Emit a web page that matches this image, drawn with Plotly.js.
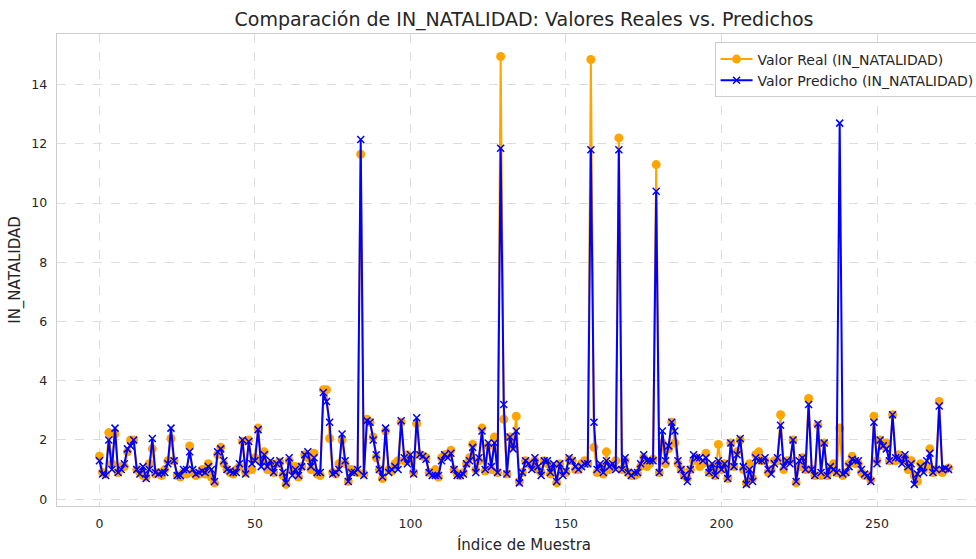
<!DOCTYPE html>
<html>
<head>
<meta charset="utf-8">
<script src="https://cdn.plot.ly/plotly-3.0.1.min.js"></script>
<style>
html,body{margin:0;padding:0;overflow:hidden;background:#fff;}
#chart{width:1010px;height:559px;}
</style>
</head>
<body>
<div id="chart"></div>
<script>
const realValues = [
1.45,0.9,0.85,2.25,1.2,2.2,0.9,1.1,1.1,1.6,
2.0,2.0,1.0,0.9,0.8,0.75,1.2,1.7,0.85,0.9,
0.8,1.0,1.3,2.05,1.3,0.8,0.75,0.9,0.85,1.8,
0.9,0.8,0.85,1.0,0.85,1.2,0.75,0.55,1.5,1.75,
1.2,1.0,0.9,0.85,1.0,1.1,1.95,0.9,2.0,1.0,
1.4,2.4,1.3,1.6,1.0,1.2,0.9,1.2,1.25,0.8,
0.5,1.3,1.0,1.1,0.75,1.1,1.5,1.4,1.0,1.55,
0.85,0.8,3.7,3.7,2.05,0.9,0.85,1.2,2.0,1.2,
0.6,1.0,0.95,0.9,11.65,0.85,2.7,2.6,2.1,1.4,
1.0,0.7,2.3,1.0,0.95,1.2,1.3,2.6,1.3,1.5,
1.3,0.9,2.55,1.5,1.45,1.4,0.9,0.85,1.0,0.75,
1.4,1.5,1.5,1.65,1.0,0.85,0.8,0.9,1.2,1.4,
1.85,1.0,1.3,2.4,0.95,1.8,1.0,2.1,0.9,14.95,
2.7,0.85,2.1,1.8,2.8,0.6,0.9,1.3,1.2,1.1,
1.3,1.0,0.9,1.3,1.2,0.85,1.1,0.55,1.2,0.9,
0.9,1.35,1.3,1.0,1.0,1.2,1.3,1.2,14.85,1.75,
0.9,1.1,0.85,1.6,1.0,1.1,1.3,12.2,1.0,1.3,
0.9,0.8,0.8,0.85,1.1,1.4,1.1,1.2,1.35,11.3,
0.9,1.9,1.2,1.7,2.6,1.9,1.2,1.0,0.8,0.7,
1.0,1.3,1.4,1.1,1.2,1.55,0.9,1.1,0.8,1.85,
1.0,1.2,0.7,1.9,1.1,1.6,2.0,1.0,0.55,1.2,
0.7,1.5,1.6,1.3,1.3,0.9,1.0,1.3,1.3,2.85,
1.0,1.3,1.3,2.0,0.55,1.1,1.4,1.0,3.4,1.0,
0.8,2.5,0.8,1.9,0.8,1.0,1.2,0.9,2.4,0.8,
0.9,1.2,1.45,1.2,1.2,0.9,0.8,0.8,0.65,2.8,
1.3,2.0,1.8,1.9,1.3,2.85,1.3,1.5,1.3,1.4,
1.0,1.3,0.8,0.6,1.2,1.0,1.1,1.7,0.9,1.0,
3.3,0.9,1.0,1.05
];
const predValues = [
1.3,0.85,0.8,2.0,1.0,2.4,0.9,1.0,1.2,1.7,
1.8,2.0,1.0,0.85,1.1,0.7,1.0,2.05,0.9,0.85,
0.9,0.9,1.2,2.4,1.3,0.8,0.8,1.0,1.0,1.6,
1.0,0.85,0.9,0.95,0.9,1.1,1.0,0.6,1.6,1.7,
1.3,1.0,0.95,0.9,0.9,1.2,2.0,0.85,1.95,1.2,
1.3,2.35,1.1,1.5,1.1,1.3,0.9,1.2,1.3,0.9,
0.55,1.4,0.8,1.0,0.8,1.1,1.5,1.6,1.1,1.4,
0.9,0.9,3.6,3.3,2.6,0.85,0.9,1.0,2.2,1.3,
0.6,0.9,0.9,1.0,12.15,0.8,2.65,2.6,2.0,1.5,
1.0,0.75,2.4,0.9,1.0,1.1,1.0,2.65,1.4,1.2,
1.5,0.85,2.75,1.5,1.45,1.35,0.9,0.8,0.8,0.8,
1.3,1.5,1.4,1.55,1.0,0.8,0.8,0.85,1.2,1.3,
1.75,0.9,1.4,2.3,1.0,1.9,1.1,1.9,0.9,11.85,
3.2,0.85,2.1,1.7,2.3,0.55,0.9,1.3,1.2,1.0,
1.4,1.1,0.8,1.3,1.3,0.9,1.2,0.6,1.2,0.8,
0.95,1.4,1.3,1.1,1.0,1.1,1.2,1.2,11.8,2.6,
1.0,1.2,0.9,1.3,1.1,1.2,1.0,11.8,1.0,1.4,
0.9,0.8,0.9,0.9,1.2,1.5,1.3,1.3,1.3,10.4,
0.9,2.3,1.3,1.8,2.6,2.3,1.3,1.0,0.8,0.6,
1.0,1.5,1.4,1.4,1.3,1.4,0.9,1.2,0.8,1.3,
1.0,1.2,0.7,1.9,1.1,1.5,2.05,1.1,0.5,1.0,
0.6,1.4,1.3,1.3,1.4,1.0,0.85,1.2,1.4,2.5,
1.1,1.3,1.2,2.0,0.6,1.3,1.4,1.0,3.2,1.0,
0.8,2.55,0.9,1.9,0.8,1.1,1.0,0.9,12.7,0.85,
0.9,1.1,1.35,1.3,1.3,1.0,0.85,0.8,0.6,2.6,
1.2,2.0,1.8,1.7,1.3,2.85,1.4,1.4,1.2,1.5,
1.1,1.2,0.5,0.85,1.1,0.9,1.3,1.55,0.9,1.0,
3.15,1.0,1.05,1.0
];
const sampleIndex = realValues.map((_, i) => i);
const xTicks = [0, 50, 100, 150, 200, 250];
const yTicks = [0, 2, 4, 6, 8, 10, 12, 14];

const FONT = "DejaVu Sans, sans-serif";
const TXT = '#262626';
const traces = [
  {
    x: sampleIndex, y: realValues, type: 'scatter', mode: 'lines+markers',
    name: 'Valor Real (IN_NATALIDAD)',
    line: {color: '#FFA500', width: 2},
    marker: {color: '#FFA500', size: 9, symbol: 'circle'}
  },
  {
    x: sampleIndex, y: predValues, type: 'scatter', mode: 'lines+markers',
    name: 'Valor Predicho (IN_NATALIDAD)',
    line: {color: '#0000FF', width: 2},
    marker: {color: '#0000FF', size: 7, symbol: 'x-thin', line: {color: '#0000FF', width: 1.5}}
  }
];
const axisCommon = {
  showline: true, mirror: true, linecolor: '#cccccc', linewidth: 1.25,
  showgrid: true, gridcolor: '#dddddd', griddash: 'dash', gridwidth: 1,
  zeroline: false, ticks: '', tickfont: {family: FONT, size: 12.5, color: TXT}
};
const layout = {
  width: 1010, height: 559,
  margin: {l: 57, r: 19, t: 34, b: 53},
  paper_bgcolor: '#ffffff', plot_bgcolor: '#ffffff',
  font: {family: FONT, color: TXT},
  title: {text: 'Comparación de IN_NATALIDAD: Valores Reales vs. Predichos',
          font: {family: FONT, size: 19, color: TXT},
          x: 0.5, xref: 'paper', xanchor: 'center', y: 0.965, yref: 'container', yanchor: 'middle'},
  xaxis: Object.assign({}, axisCommon, {
    range: [-13.65, 286.65], tickvals: xTicks, ticktext: xTicks.map(String),
    ticklabelstandoff: 6,
    title: {text: 'Índice de Muestra', font: {family: FONT, size: 15, color: TXT}, standoff: 9}
  }),
  yaxis: Object.assign({}, axisCommon, {
    range: [-0.23, 15.71], tickvals: yTicks, ticktext: yTicks.map(String),
    ticklabelstandoff: 6,
    title: {text: 'IN_NATALIDAD', font: {family: FONT, size: 15, color: TXT}, standoff: 7}
  }),
  showlegend: true,
  legend: {x: 0.704, y: 0.982, xanchor: 'left', yanchor: 'top',
           bgcolor: 'rgba(255,255,255,0.85)', bordercolor: '#cccccc', borderwidth: 1,
           itemwidth: 32,
           font: {family: FONT, size: 14, color: TXT}, tracegroupgap: 0}
};
Plotly.newPlot('chart', traces, layout, {displayModeBar: false, staticPlot: true});
</script>
</body>
</html>
